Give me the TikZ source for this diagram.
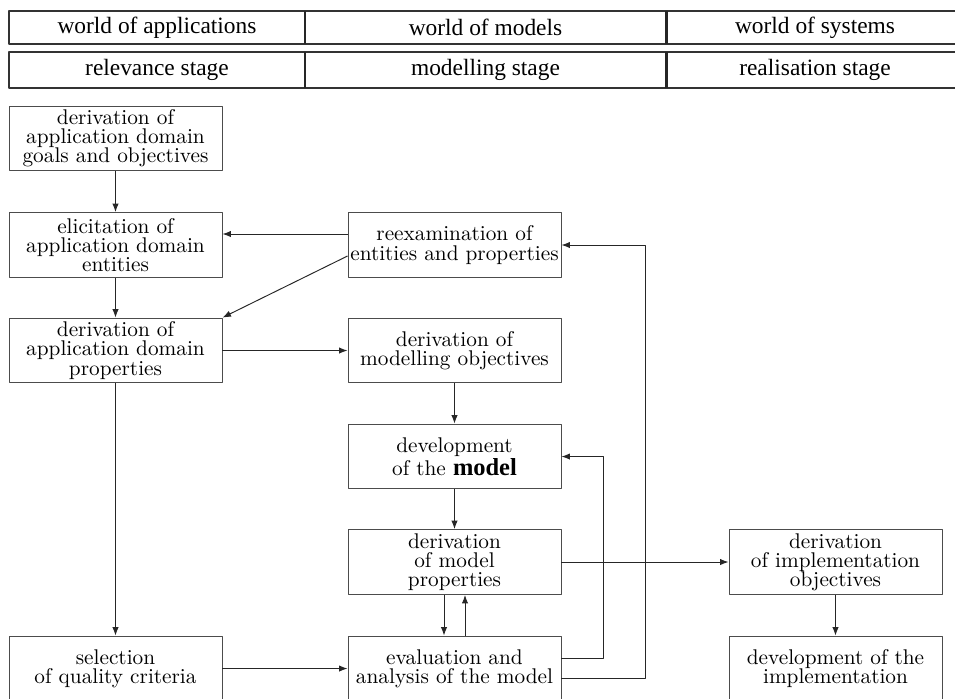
\documentclass[tikz,border=0pt]{standalone}
\usepackage{fontspec}
\newfontfamily\headfont{Liberation Serif}
\usetikzlibrary{arrows.meta}
\tikzset{
  stagebox/.style={draw=black!80, line width=0.7pt},
  stagesep/.style={draw=black!85, line width=1.4pt},
  stagetext/.style={font=\headfont\fontsize{11}{12}\selectfont, inner sep=0pt},
  activity/.style={draw=black!70, line width=0.45pt, minimum width=100.1pt, minimum height=30.5pt,
    inner sep=0pt, align=center, font=\fontsize{10}{9}\selectfont},
  flow/.style={->, line width=0.45pt, draw=black!85}
}
\begin{document}
\begin{tikzpicture}[x=0.47pt, y=-0.47pt, line join=round, >={Latex[length=4pt,width=3pt]}]
	\useasboundingbox (0,0) rectangle (955,698);
	\def\xa{115.5}\def\xm{454.5}\def\xs{835.5}
	%stages
	\draw[stagebox] (9,11) rectangle (964,44) (9,52) rectangle (964,88);
	\draw[stagesep] (305,11)--(305,44) (666,11)--(666,44) (305,52)--(305,88) (666,52)--(666,88);
	\node[stagetext] (wApp) at (157,27.5) {world of applications};
	\node[stagetext] (wMod) at (485.5,27.5) {world of models};
	\node[stagetext] (wSys) at (815,27.5) {world of systems};
	\node[stagetext] (sRel) at (157,70) {relevance stage};
	\node[stagetext] (sMod) at (485.5,70) {modelling stage};
	\node[stagetext] (sRea) at (815,70) {realisation stage};
	%world of applications
	\node[activity] (goal) at (\xa,138.5) {derivation of\\application domain\\goals and objectives};
	\node[activity] (elic) at (\xa,245) {elicitation of\\application domain\\entities};
	\node[activity] (prop) at (\xa,350.5) {derivation of\\application domain\\properties};
	\node[activity] (sel) at (\xa,668.5) {selection\\of quality criteria};
	%world of models
	\node[activity] (reex) at (\xm,245) {reexamination of\\entities and properties};
	\node[activity] (mobj) at (\xm,350.5) {derivation of\\modelling objectives};
	\node[activity] (devm) at (\xm,456.5) {development\\of the {\headfont\bfseries\fontsize{11.5}{9}\selectfont model}};
	\node[activity] (mprop) at (\xm,562) {derivation\\of model\\properties};
	\node[activity] (eval) at (\xm,668.5) {evaluation and\\analysis of the model};
	%world of systems
	\node[activity] (iobj) at (\xs,562) {derivation\\of implementation\\objectives};
	\node[activity] (impl) at (\xs,668.5) {development of the\\implementation};
	%flows
	\draw[flow] (goal) -- (elic);
	\draw[flow] (elic) -- (prop);
	\draw[flow] (prop) -- (sel);
	\draw[flow] (reex.west |- 0,234) -- (elic.east |- 0,234);
	\draw[flow] (reex.west |- 0,256) -- (prop.north east);
	\draw[flow] (prop) -- (mobj);
	\draw[flow] (mobj) -- (devm);
	\draw[flow] (devm) -- (mprop);
	\draw[flow] (mprop.south -| 444,0) -- (eval.north -| 444,0);
	\draw[flow] (eval.north -| 465,0) -- (mprop.south -| 465,0);
	\draw[flow] (eval.east |- 0,658) -- (603,658) |- (devm.east);
	\draw[flow] (eval.east |- 0,678) -- (645,678) |- (reex.east);
	\draw[flow] (mprop) -- (iobj);
	\draw[flow] (iobj) -- (impl);
	\draw[flow] (sel) -- (eval);
\end{tikzpicture}
\end{document}
